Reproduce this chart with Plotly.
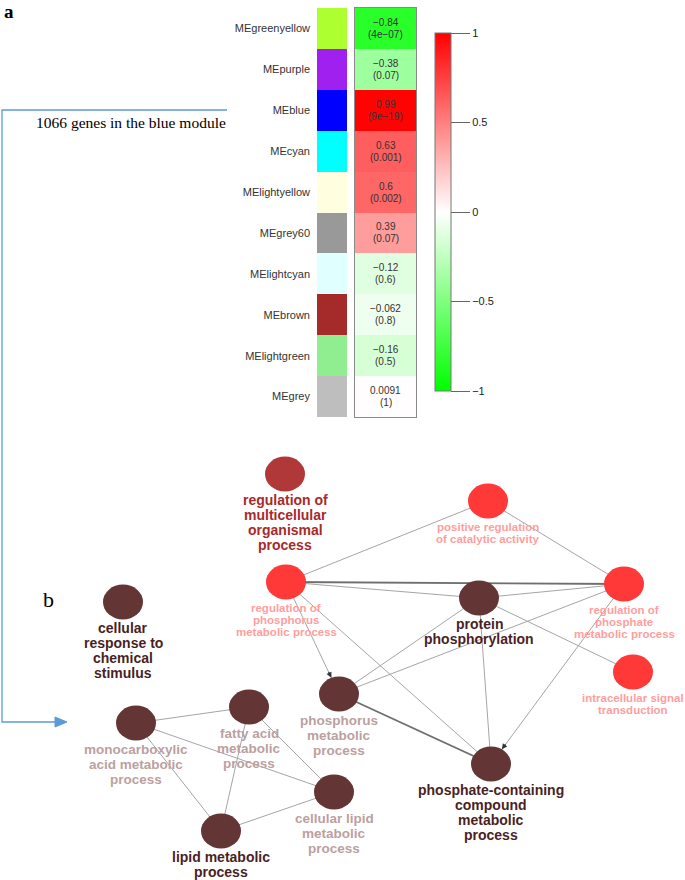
import plotly.graph_objects as go

# ---------------- data: panel a (module-trait heatmap) ----------------
modules = ["MEgreenyellow", "MEpurple", "MEblue", "MEcyan", "MElightyellow",
           "MEgrey60", "MElightcyan", "MEbrown", "MElightgreen", "MEgrey"]
module_colors = ["#adff2f", "#a020f0", "#0000ff", "#00ffff", "#ffffe0",
                 "#999999", "#e0ffff", "#a52a2a", "#90ee90", "#bebebe"]
corr_values = [-0.84, -0.38, 0.99, 0.63, 0.6, 0.39, -0.12, -0.062, -0.16, 0.0091]
corr_labels = ["−0.84", "−0.38", "0.99", "0.63", "0.6", "0.39", "−0.12", "−0.062", "−0.16", "0.0091"]
p_labels = ["(4e−07)", "(0.07)", "(9e−19)", "(0.001)", "(0.002)", "(0.07)", "(0.6)", "(0.8)", "(0.5)", "(1)"]
cbar_tickvals = [-1, -0.5, 0, 0.5, 1]
cbar_ticktext = ["−1", "−0.5", "0", "0.5", "1"]

# ---------------- data: panel b (GO network) ----------------
node_labels = [
    "regulation of\nmulticellular\norganismal\nprocess",
    "positive regulation\nof catalytic activity",
    "regulation of\nphosphorus\nmetabolic process",
    "protein\nphosphorylation",
    "regulation of\nphosphate\nmetabolic process",
    "intracellular signal\ntransduction",
    "cellular\nresponse to\nchemical\nstimulus",
    "phosphorus\nmetabolic\nprocess",
    "monocarboxylic\nacid metabolic\nprocess",
    "fatty acid\nmetabolic\nprocess",
    "cellular lipid\nmetabolic\nprocess",
    "lipid metabolic\nprocess",
    "phosphate-containing\ncompound\nmetabolic\nprocess",
]
node_x = [285, 488, 286, 479, 624, 633, 123, 339, 136, 249, 334, 221, 491]
node_y = [474, 501, 582, 598, 584, 672, 602, 694, 723, 707, 792, 831, 764]
node_group = ["darkred", "pink", "pink", "dark", "pink", "pink", "dark",
              "muted", "muted", "muted", "muted", "dark", "dark"]
edges = [(2, 1), (1, 4), (2, 3), (3, 4), (2, 12), (3, 7), (3, 12), (3, 5), (4, 7),
         (8, 9), (8, 10), (8, 11), (9, 10), (9, 11), (10, 11), (2, 7), (4, 12)]
strong_edges = [(2, 4), (7, 12)]
arrow_edges = [(2, 7), (4, 12)]

# ---------------- styles ----------------
W, H = 685, 880
FONT = "Liberation Sans, Arial, sans-serif"
SERIF = "Liberation Serif, Times New Roman, serif"
node_fill = {"darkred": "#b03838", "pink": "#ff3838", "dark": "#633535", "muted": "#633535"}
label_style = {  # color, size, line spacing
    "darkred": ("#a82a2a", 14, 15),
    "pink": ("#ff9e9e", 11.5, 12),
    "dark": ("#4a1f1f", 14, 15),
    "muted": ("#bc9f9f", 13.5, 15),
}
RX, RY = 20, 17.5

fig = go.Figure()

# edges
def edge_xy(pairs):
    xs, ys = [], []
    for a, b in pairs:
        xs += [node_x[a], node_x[b], None]
        ys += [node_y[a], node_y[b], None]
    return xs, ys

ex, ey = edge_xy(edges)
fig.add_trace(go.Scatter(x=ex, y=ey, mode="lines", line=dict(color="#a5a5a5", width=1),
                         hoverinfo="skip", showlegend=False, xaxis="x", yaxis="y"))
sx, sy = edge_xy(strong_edges)
fig.add_trace(go.Scatter(x=sx, y=sy, mode="lines", line=dict(color="#6e6e6e", width=1.8),
                         hoverinfo="skip", showlegend=False, xaxis="x", yaxis="y"))

shapes = []
annotations = []

# nodes as ellipses
for i in range(len(node_x)):
    shapes.append(dict(type="circle", xref="x", yref="y", layer="above",
                       x0=node_x[i] - RX, x1=node_x[i] + RX,
                       y0=node_y[i] - RY, y1=node_y[i] + RY,
                       fillcolor=node_fill[node_group[i]], line=dict(width=0)))

# node labels
for i, lab in enumerate(node_labels):
    col, size, sp = label_style[node_group[i]]
    for k, line in enumerate(lab.split("\n")):
        annotations.append(dict(x=node_x[i], y=node_y[i] + 26 + k * sp, xref="x", yref="y",
                                text="<b>" + line + "</b>", showarrow=False,
                                xanchor="center", yanchor="middle",
                                font=dict(family=FONT, size=size, color=col)))

# arrow heads on directed edges
for a, b in arrow_edges:
    dx, dy = node_x[b] - node_x[a], node_y[b] - node_y[a]
    d = (dx ** 2 + dy ** 2) ** 0.5
    ux, uy = dx / d, dy / d
    t = 1 / (((ux / RX) ** 2 + (uy / RY) ** 2) ** 0.5)
    tx, ty = node_x[b] - ux * t, node_y[b] - uy * t
    annotations.append(dict(x=tx, y=ty, ax=tx - ux * 8, ay=ty - uy * 8, xref="x", yref="y",
                            axref="x", ayref="y", text="", showarrow=True, arrowhead=2,
                            arrowsize=0.9, arrowwidth=1.2, arrowcolor="#333333"))

# ---------------- panel a heatmaps ----------------
rows = list(range(len(modules)))
n = len(module_colors)
mod_scale = []
for i, c in enumerate(module_colors):
    mod_scale += [[i / n, c], [(i + 1) / n, c]]
fig.add_trace(go.Heatmap(z=[[i] for i in rows], x=[0], y=rows, colorscale=mod_scale,
                         zmin=-0.5, zmax=n - 0.5, showscale=False, hoverinfo="skip",
                         xaxis="x3", yaxis="y3"))

fig.add_trace(go.Heatmap(
    z=[[v] for v in corr_values], x=[0], y=rows,
    colorscale=[[0, "#00ff00"], [0.5, "#ffffff"], [1, "#ff0000"]], zmin=-1, zmax=1,
    hoverinfo="skip", xaxis="x2", yaxis="y2",
    colorbar=dict(x=435 / W, xanchor="left", xref="paper", xpad=0, ypad=0,
                  y=1 - 33 / H, yanchor="top", yref="paper", len=358 / H, lenmode="fraction",
                  thickness=16, thicknessmode="pixels",
                  outlinewidth=1, outlinecolor="#777777",
                  tickmode="array", tickvals=cbar_tickvals, ticktext=cbar_ticktext,
                  ticks="outside", ticklen=19, tickwidth=1, tickcolor="#666666",
                  tickfont=dict(family=FONT, size=11, color="#222222")),
))

for i in rows:
    annotations.append(dict(x=0, y=i, xref="x2", yref="y2", text=corr_labels[i], showarrow=False,
                            yshift=6, font=dict(family=FONT, size=10, color="#333333")))
    annotations.append(dict(x=0, y=i, xref="x2", yref="y2", text=p_labels[i], showarrow=False,
                            yshift=-6, font=dict(family=FONT, size=10, color="#333333")))

# ---------------- panel letters, note and connector ----------------
annotations.append(dict(x=3, y=0, xref="x", yref="y", text="<b>a</b>", showarrow=False,
                        xanchor="left", yanchor="top", borderpad=0,
                        font=dict(family=SERIF, size=19, color="#000000")))
annotations.append(dict(x=41, y=599, xref="x", yref="y", text="b", showarrow=False,
                        xanchor="left", yanchor="middle",
                        font=dict(family=SERIF, size=22, color="#000000")))
annotations.append(dict(x=34, y=122.5, xref="x", yref="y", text="1066 genes in the blue module",
                        showarrow=False, xanchor="left", yanchor="middle",
                        font=dict(family=SERIF, size=15.5, color="#000000")))
shapes.append(dict(type="path", xref="x", yref="y", path="M 227 110 L 2 110 L 2 722 L 56 722",
                   line=dict(color="#5b9bd5", width=1.3)))
shapes.append(dict(type="path", xref="x", yref="y", path="M 55 717 L 67 722 L 55 727 Z",
                   fillcolor="#5b9bd5", line=dict(color="#5b9bd5", width=1)))

ydom = [1 - 417 / H, 1 - 8 / H]
fig.update_layout(
    width=W, height=H, margin=dict(l=0, r=0, t=0, b=0),
    paper_bgcolor="white", plot_bgcolor="white", showlegend=False,
    xaxis=dict(domain=[0, 1], range=[0, W], visible=False, fixedrange=True),
    yaxis=dict(domain=[0, 1], range=[H, 0], visible=False, fixedrange=True),
    xaxis2=dict(domain=[355 / W, 416 / W], anchor="y2", range=[-0.5, 0.5], showticklabels=False,
                ticks="", showgrid=False, zeroline=False, showline=True, mirror=True,
                linecolor="#8a8a8a", linewidth=1),
    yaxis2=dict(domain=ydom, anchor="x2", range=[n - 0.5, -0.5], showticklabels=False,
                ticks="", showgrid=False, zeroline=False, showline=True, mirror=True,
                linecolor="#8a8a8a", linewidth=1),
    xaxis3=dict(domain=[317 / W, 347 / W], anchor="y3", range=[-0.5, 0.5], showticklabels=False,
                ticks="", showgrid=False, zeroline=False, showline=False),
    yaxis3=dict(domain=ydom, anchor="x3", range=[n - 0.5, -0.5], tickmode="array",
                tickvals=rows, ticktext=modules, ticks="", ticklabelstandoff=6,
                tickfont=dict(family=FONT, size=11, color="#333333"),
                showgrid=False, zeroline=False, showline=False),
    shapes=shapes, annotations=annotations,
)

fig.write_html("out.html", config={"displayModeBar": False},
               post_script="document.body.style.margin='0';")
